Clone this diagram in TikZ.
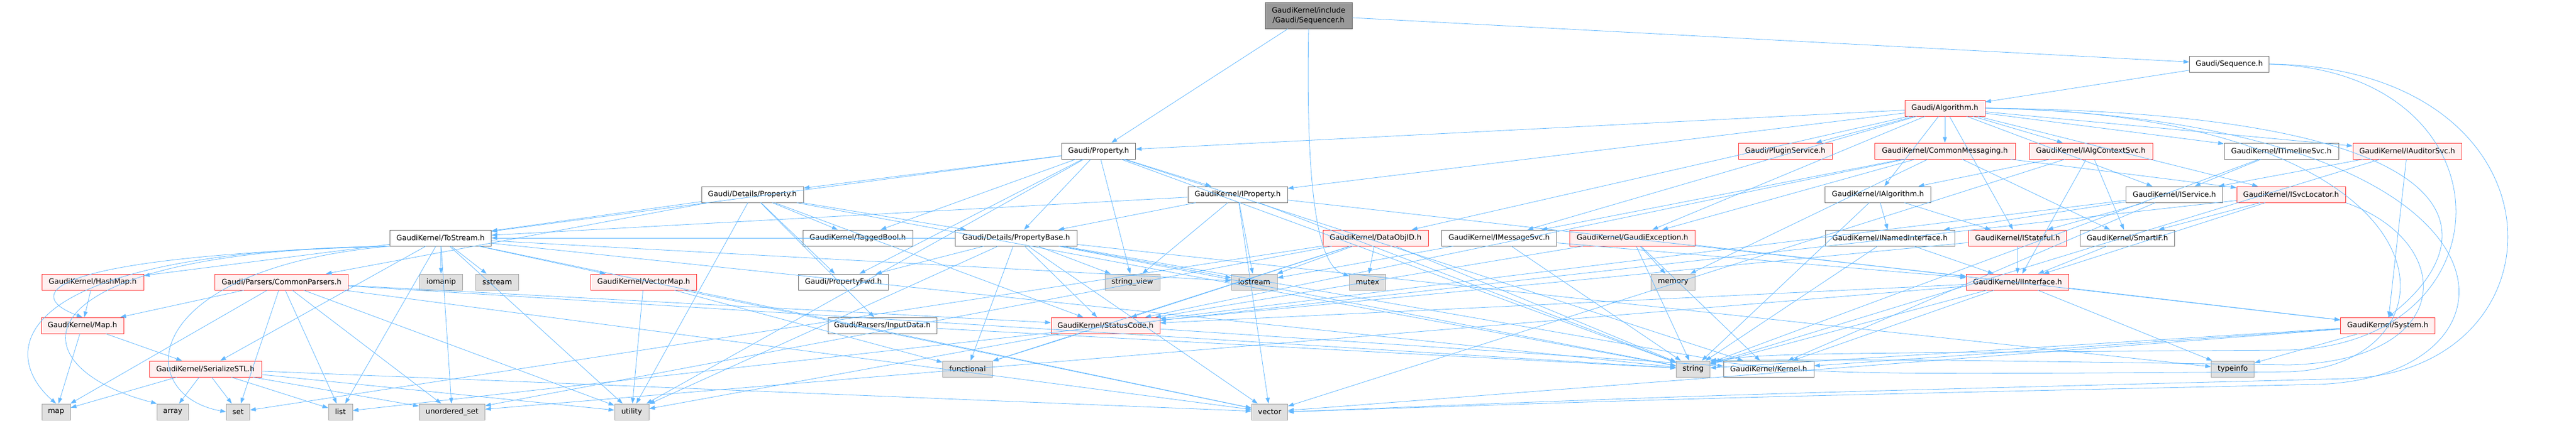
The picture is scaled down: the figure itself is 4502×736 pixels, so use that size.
\documentclass[tikz,border=0pt]{standalone}
\usepackage{fontspec}
\setmainfont{DejaVu Sans}
\usetikzlibrary{arrows.meta}
\definecolor{edgeblue}{HTML}{63B8FF}
\definecolor{redline}{HTML}{FF3333}
\definecolor{redfill}{HTML}{FFF0F0}
\definecolor{sysfill}{HTML}{E0E0E0}
\tikzset{
  hdr/.style={draw=black!55, fill=white, line width=0.9pt, minimum height=28pt, inner sep=0pt, font=\fontsize{12.8}{17}\selectfont},
  trunc/.style={hdr, draw=redline, fill=redfill},
  sys/.style={hdr, draw=black!35, fill=sysfill},
  rootbox/.style={hdr, draw=black!60, fill=black!40, minimum height=46pt, align=center},
  dep/.style={draw=edgeblue, line width=0.8pt, -{Triangle[length=10pt,width=7pt]}},
}
\begin{document}
\begin{tikzpicture}[x=1pt,y=-1pt]
\useasboundingbox (0,0) rectangle (4502,736);
\node[rootbox, minimum width=152pt] (seqr) at (2287,27) {GaudiKernel/include\\/Gaudi/Sequencer.h};
\node[hdr, minimum width=139pt] (seq) at (3896,112) {Gaudi/Sequence.h};
\node[trunc, minimum width=140pt] (alg) at (3399,189) {Gaudi/Algorithm.h};
\node[hdr, minimum width=129pt] (prop) at (1920,264) {Gaudi/Property.h};
\node[trunc, minimum width=164pt] (plugin) at (3120,264) {Gaudi/PluginService.h};
\node[trunc, minimum width=246pt] (cmsg) at (3399,264) {GaudiKernel/CommonMessaging.h};
\node[trunc, minimum width=216pt] (ialgctx) at (3654,264) {GaudiKernel/IAlgContextSvc.h};
\node[hdr, minimum width=200pt] (itimeline) at (3987,264) {GaudiKernel/ITimelineSvc.h};
\node[trunc, minimum width=190pt] (iauditor) at (4207,264) {GaudiKernel/IAuditorSvc.h};
\node[hdr, minimum width=178pt] (detprop) at (1315,340) {Gaudi/Details/Property.h};
\node[hdr, minimum width=174pt] (iprop) at (2163,340) {GaudiKernel/IProperty.h};
\node[hdr, minimum width=185pt] (ialg) at (3282,340) {GaudiKernel/IAlgorithm.h};
\node[hdr, minimum width=169pt] (iservice) at (3800,340) {GaudiKernel/IService.h};
\node[trunc, minimum width=190pt] (isvcloc) at (4004,340) {GaudiKernel/ISvcLocator.h};
\node[hdr, minimum width=177pt] (tostream) at (770,416) {GaudiKernel/ToStream.h};
\node[hdr, minimum width=192pt] (tagged) at (1499,416) {GaudiKernel/TaggedBool.h};
\node[hdr, minimum width=213pt] (propbase) at (1776,416) {Gaudi/Details/PropertyBase.h};
\node[trunc, minimum width=184pt] (dataobjid) at (2404,416) {GaudiKernel/DataObjID.h};
\node[hdr, minimum width=201pt] (imsgsvc) at (2620,416) {GaudiKernel/IMessageSvc.h};
\node[trunc, minimum width=219pt] (gexcept) at (2853,416) {GaudiKernel/GaudiException.h};
\node[hdr, minimum width=226pt] (inamed) at (3303,416) {GaudiKernel/INamedInterface.h};
\node[trunc, minimum width=171pt] (istateful) at (3526,416) {GaudiKernel/IStateful.h};
\node[hdr, minimum width=165pt] (smartif) at (3718,416) {GaudiKernel/SmartIF.h};
\node[trunc, minimum width=178pt] (hashmap) at (162,493) {GaudiKernel/HashMap.h};
\node[trunc, minimum width=233pt] (cparsers) at (492,493) {Gaudi/Parsers/CommonParsers.h};
\node[sys, minimum width=75pt] (iomanip) at (771,493) {iomanip};
\node[sys, minimum width=75pt] (sstream) at (869,493) {sstream};
\node[trunc, minimum width=185pt] (vectormap) at (1125,493) {GaudiKernel/VectorMap.h};
\node[hdr, minimum width=157pt] (propfwd) at (1474,493) {Gaudi/PropertyFwd.h};
\node[sys, minimum width=96pt] (strview) at (1979,493) {string\_view};
\node[sys, minimum width=80pt] (iostream) at (2192,493) {iostream};
\node[sys, minimum width=63pt] (mutex) at (2390,493) {mutex};
\node[sys, minimum width=77pt] (memory) at (2924,493) {memory};
\node[trunc, minimum width=179pt] (iinterface) at (3526,493) {GaudiKernel/IInterface.h};
\node[trunc, minimum width=144pt] (maph) at (144,569) {GaudiKernel/Map.h};
\node[hdr, minimum width=190pt] (inputdata) at (1542,569) {Gaudi/Parsers/InputData.h};
\node[trunc, minimum width=190pt] (statuscode) at (1932,569) {GaudiKernel/StatusCode.h};
\node[trunc, minimum width=165pt] (system) at (4173,569) {GaudiKernel/System.h};
\node[trunc, minimum width=196pt] (sstl) at (359,645) {GaudiKernel/SerializeSTL.h};
\node[sys, minimum width=87pt] (functional) at (1691,645) {functional};
\node[sys, minimum width=59pt] (string) at (2959,645) {string};
\node[hdr, minimum width=158pt] (kernel) at (3091,645) {GaudiKernel/Kernel.h};
\node[sys, minimum width=75pt] (typeinfo) at (3902,645) {typeinfo};
\node[sys, minimum width=50pt] (map) at (98,720) {map};
\node[sys, minimum width=55pt] (array) at (302,720) {array};
\node[sys, minimum width=41pt] (set) at (416,720) {set};
\node[sys, minimum width=42pt] (list) at (595,720) {list};
\node[sys, minimum width=115pt] (uset) at (790,720) {unordered\_set};
\node[sys, minimum width=60pt] (utility) at (1104,720) {utility};
\node[sys, minimum width=63pt] (vector) at (2219,720) {vector};
\draw[dep] (seqr) -- (prop);
\draw[dep] (seqr) -- (seq);
\draw[dep] (seqr.south) .. controls (2280,420) and (2320,470) .. (mutex);
\draw[dep] (seq) -- (alg);
\draw[dep] (seq.east) .. controls (4395,125) and (4395,600) .. (4000,612) .. controls (3100,618) .. (string.north east);
\draw[dep] (seq.east) .. controls (4497,118) and (4497,650) .. (4100,662) .. controls (3000,690) .. (vector.east);
\draw[dep] (alg) -- (prop);
\draw[dep] (alg) -- (plugin);
\draw[dep] (alg) -- (cmsg);
\draw[dep] (alg) -- (ialgctx);
\draw[dep] (alg) -- (itimeline);
\draw[dep] (alg) -- (iauditor);
\draw[dep] (alg) -- (iprop);
\draw[dep] (alg) -- (ialg);
\draw[dep] (alg) -- (iservice);
\draw[dep] (alg) -- (isvcloc);
\draw[dep] (alg) -- (dataobjid);
\draw[dep] (alg) -- (imsgsvc);
\draw[dep] (alg) -- (gexcept);
\draw[dep] (alg) -- (istateful);
\draw[dep] (alg.east) .. controls (4360,198) and (4345,420) .. (system.north);
\draw[dep] (alg.east) .. controls (4317,200) and (4317,640) .. (4000,650) .. controls (3200,655) .. (string.north east);
\draw[dep] (alg.east) .. controls (4445,210) and (4445,660) .. (4050,672) .. controls (3000,695) .. (vector.east);
\draw[dep] (prop) -- (detprop);
\draw[dep] (prop) -- (propbase);
\draw[dep] (prop) -- (propfwd);
\draw[dep] (prop) -- (iprop);
\draw[dep] (prop) -- (tagged);
\draw[dep] (prop) -- (tostream);
\draw[dep] (prop) -- (strview);
\draw[dep] (prop) -- (kernel);
\draw[dep] (prop) -- (string);
\draw[dep] (prop) -- (utility);
\draw[dep] (detprop) -- (propbase);
\draw[dep] (detprop) -- (tostream);
\draw[dep] (detprop) -- (cparsers);
\draw[dep] (detprop) -- (tagged);
\draw[dep] (detprop) -- (propfwd);
\draw[dep] (detprop) -- (inputdata);
\draw[dep] (detprop) -- (statuscode);
\draw[dep] (detprop) -- (string);
\draw[dep] (detprop) -- (utility);
\draw[dep] (iprop) -- (propbase);
\draw[dep] (iprop) -- (tostream);
\draw[dep] (iprop) -- (strview);
\draw[dep] (iprop) -- (iostream);
\draw[dep] (iprop) -- (iinterface);
\draw[dep] (iprop) -- (string);
\draw[dep] (iprop) -- (vector);
\draw[dep] (ialg) -- (inamed);
\draw[dep] (ialg) -- (istateful);
\draw[dep] (ialg) -- (string);
\draw[dep] (iservice) -- (inamed);
\draw[dep] (iservice) -- (istateful);
\draw[dep] (iservice) -- (kernel);
\draw[dep] (iservice) -- (statuscode);
\draw[dep] (isvcloc) -- (smartif);
\draw[dep] (isvcloc) -- (iinterface);
\draw[dep] (isvcloc) -- (list);
\draw[dep] (isvcloc.south east) .. controls (4290,420) and (4300,630) .. (4000,638) .. controls (3300,628) .. (string.north east);
\draw[dep] (cmsg) -- (imsgsvc);
\draw[dep] (cmsg) -- (gexcept);
\draw[dep] (cmsg) -- (isvcloc);
\draw[dep] (cmsg) -- (smartif);
\draw[dep] (cmsg) -- (statuscode);
\draw[dep] (cmsg) -- (memory);
\draw[dep] (ialgctx) -- (ialg);
\draw[dep] (ialgctx) -- (smartif);
\draw[dep] (ialgctx) -- (iinterface);
\draw[dep] (ialgctx) -- (vector);
\draw[dep] (itimeline) -- (iservice);
\draw[dep] (itimeline) -- (string);
\draw[dep] (iauditor) -- (iservice);
\draw[dep] (iauditor) -- (system);
\draw[dep] (iauditor) -- (string);
\draw[dep] (tostream) -- (hashmap);
\draw[dep] (tostream.south west) .. controls (40,450) and (50,520) .. (maph.north);
\draw[dep] (tostream) -- (sstl);
\draw[dep] (tostream) -- (vectormap);
\draw[dep] (tostream.south west) .. controls (20,440) and (20,640) .. (array.north west);
\draw[dep] (tostream) -- (iomanip);
\draw[dep] (tostream) -- (iostream);
\draw[dep] (tostream) -- (list);
\draw[dep] (tostream.south west) .. controls (0,440) and (0,620) .. (map.north);
\draw[dep] (tostream.south west) .. controls (240,470) and (230,690) .. (set.west);
\draw[dep] (tostream) -- (sstream);
\draw[dep] (tostream) -- (string);
\draw[dep] (tostream) -- (uset);
\draw[dep] (tostream) -- (utility);
\draw[dep] (tostream) -- (vector);
\draw[dep] (propbase) -- (propfwd);
\draw[dep] (propbase) -- (functional);
\draw[dep] (propbase) -- (strview);
\draw[dep] (propbase) -- (iostream);
\draw[dep] (propbase) -- (statuscode);
\draw[dep] (propbase) -- (kernel);
\draw[dep] (propbase) -- (tostream);
\draw[dep] (propbase) -- (string);
\draw[dep] (propbase) -- (typeinfo);
\draw[dep] (propbase) -- (utility);
\draw[dep] (propbase) -- (vector);
\draw[dep] (dataobjid) -- (statuscode);
\draw[dep] (dataobjid) -- (functional);
\draw[dep] (dataobjid) -- (iostream);
\draw[dep] (dataobjid) -- (mutex);
\draw[dep] (dataobjid) -- (set);
\draw[dep] (dataobjid) -- (string);
\draw[dep] (dataobjid) -- (uset);
\draw[dep] (imsgsvc) -- (iinterface);
\draw[dep] (imsgsvc) -- (iostream);
\draw[dep] (imsgsvc) -- (string);
\draw[dep] (gexcept) -- (statuscode);
\draw[dep] (gexcept) -- (memory);
\draw[dep] (gexcept) -- (string);
\draw[dep] (gexcept) -- (kernel);
\draw[dep] (gexcept) -- (system);
\draw[dep] (inamed) -- (iinterface);
\draw[dep] (inamed) -- (string);
\draw[dep] (istateful) -- (iinterface);
\draw[dep] (istateful) -- (statuscode);
\draw[dep] (smartif) -- (iinterface);
\draw[dep] (hashmap) -- (maph);
\draw[dep] (cparsers) -- (maph);
\draw[dep] (cparsers) -- (map);
\draw[dep] (cparsers) -- (set);
\draw[dep] (cparsers) -- (list);
\draw[dep] (cparsers) -- (uset);
\draw[dep] (cparsers) -- (utility);
\draw[dep] (cparsers) -- (vector);
\draw[dep] (cparsers) -- (string);
\draw[dep] (cparsers) -- (statuscode);
\draw[dep] (vectormap) -- (utility);
\draw[dep] (vectormap) -- (vector);
\draw[dep] (vectormap) -- (functional);
\draw[dep] (iinterface) -- (kernel);
\draw[dep] (iinterface) -- (statuscode);
\draw[dep] (iinterface) -- (system);
\draw[dep] (iinterface) -- (typeinfo);
\draw[dep] (iinterface) -- (uset);
\draw[dep] (iinterface) -- (string);
\draw[dep] (maph) -- (map);
\draw[dep] (maph) -- (sstl);
\draw[dep] (inputdata) -- (string);
\draw[dep] (statuscode) -- (functional);
\draw[dep] (statuscode) -- (kernel);
\draw[dep] (statuscode) -- (utility);
\draw[dep] (system) -- (kernel);
\draw[dep] (system) -- (string);
\draw[dep] (system) -- (vector);
\draw[dep] (system) -- (typeinfo);
\draw[dep] (sstl) -- (map);
\draw[dep] (sstl) -- (array);
\draw[dep] (sstl) -- (set);
\draw[dep] (sstl) -- (list);
\draw[dep] (sstl) -- (uset);
\draw[dep] (sstl) -- (utility);
\draw[dep] (sstl) -- (vector);
\end{tikzpicture}
\end{document}
